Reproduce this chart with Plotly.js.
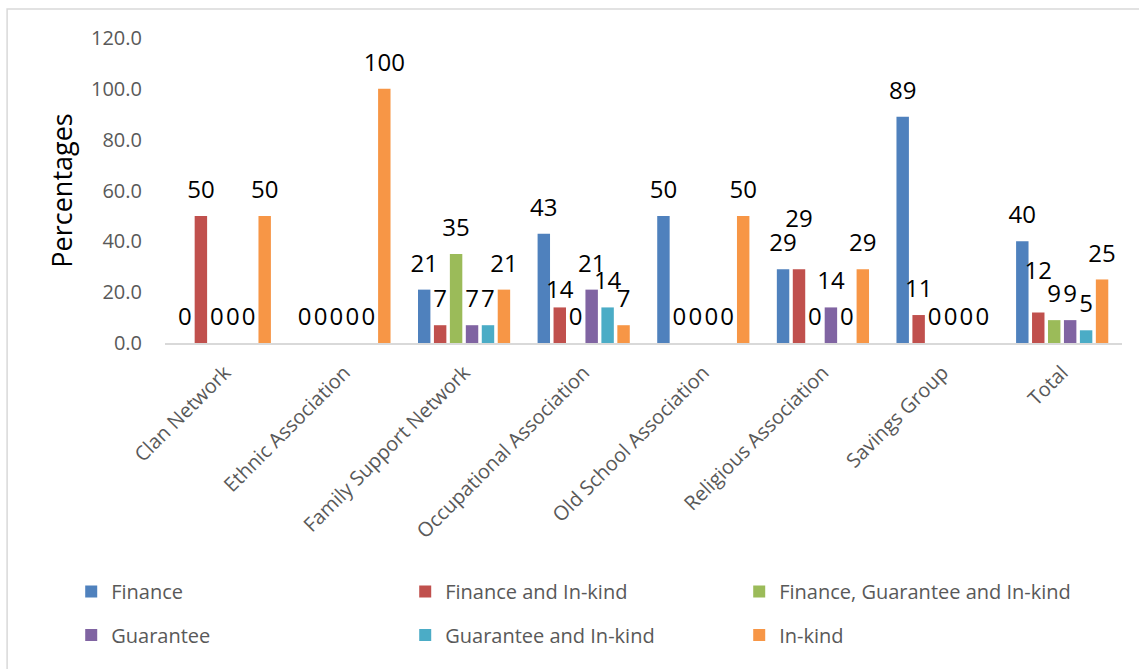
<!DOCTYPE html>
<html>
<head>
<meta charset="utf-8">
<script src="https://cdn.plot.ly/plotly-3.0.1.min.js"></script>
<style>html,body{margin:0;padding:0;background:#fff;}#chart{width:1139px;height:669px;}</style>
</head>
<body>
<div id="chart"></div>
<script>
const categories = ["Clan Network", "Ethnic Association", "Family Support Network", "Occupational Association", "Old School Association", "Religious Association", "Savings Group", "Total"];
const seriesNames = ["Finance", "Finance and In-kind", "Finance, Guarantee and In-kind", "Guarantee", "Guarantee and In-kind", "In-kind"];
const finance                = [0, 0, 21, 43, 50, 29, 89, 40];
const financeInKind          = [50, 0, 7, 14, 0, 29, 11, 12];
const financeGuaranteeInKind = [0, 0, 35, 0, 0, 0, 0, 9];
const guarantee              = [0, 0, 7, 21, 0, 14, 0, 9];
const guaranteeInKind        = [0, 0, 7, 14, 0, 0, 0, 5];
const inKind                 = [50, 100, 21, 7, 50, 29, 0, 25];
const tickVals = [0, 20, 40, 60, 80, 100, 120];

const allSeries = [finance, financeInKind, financeGuaranteeInKind, guarantee, guaranteeInKind, inKind];
const colors = ["#4F81BD", "#C0504D", "#9BBB59", "#8064A2", "#4BACC6", "#F79646"];
const FONT = "Open Sans, Noto Sans, sans-serif";
const LABEL_SIZE = 24;

// style: distance (px) from bar end to the centre of its data label
const DEFAULT_LIFT = 26.5;
const liftOverrides = {1: {3: 18, 5: 51, 7: 42}};
function markerSizeForLift(lift) {
  const r = lift - 0.607 * LABEL_SIZE;
  return Math.max(0, 2 * 0.8 * (r - 1));
}

const barTraces = allSeries.map((vals, i) => ({
  type: "bar",
  name: seriesNames[i],
  x: categories,
  y: vals,
  marker: {color: colors[i], line: {width: 0}},
  legend: i < 3 ? "legend" : "legend2",
  hoverinfo: "skip"
}));

const labelTraces = allSeries.map((vals, i) => ({
  type: "scatter",
  mode: "markers+text",
  x: categories,
  y: vals,
  text: vals.map(v => String(v)),
  textposition: "top center",
  textfont: {family: FONT, size: LABEL_SIZE, color: "#000000"},
  marker: {
    color: "rgba(0,0,0,0)",
    size: vals.map((v, j) => markerSizeForLift((liftOverrides[i] && liftOverrides[i][j]) || DEFAULT_LIFT)),
    line: {width: 0}
  },
  cliponaxis: false,
  showlegend: false,
  hoverinfo: "skip"
}));

const legendCommon = {
  orientation: "h",
  xanchor: "left",
  yanchor: "middle",
  font: {family: FONT, size: 20, color: "#595959"},
  entrywidth: 289,
  entrywidthmode: "pixels",
  bgcolor: "rgba(0,0,0,0)",
  traceorder: "normal"
};

const layout = {
  width: 1139,
  height: 669,
  margin: {l: 165, r: 17, t: 38, b: 326},
  paper_bgcolor: "#ffffff",
  plot_bgcolor: "#ffffff",
  barmode: "group",
  bargap: 0.2,
  bargroupgap: 0.22,
  scattermode: "group",
  scattergap: 0.2,
  showlegend: true,
  legend: Object.assign({}, legendCommon, {x: -0.098, y: -0.815}),
  legend2: Object.assign({}, legendCommon, {x: -0.098, y: -0.957}),
  xaxis: {
    type: "category",
    tickangle: -45,
    tickfont: {family: FONT, size: 20, color: "#595959"},
    ticklabelstandoff: 8,
    showline: true,
    linecolor: "#D9D9D9",
    linewidth: 2,
    ticks: "",
    showgrid: false,
    zeroline: false,
    fixedrange: true
  },
  yaxis: {
    range: [0, 120],
    tickvals: tickVals,
    tickformat: ".1f",
    tickfont: {family: FONT, size: 20, color: "#595959"},
    showline: false,
    showgrid: false,
    zeroline: false,
    ticks: "",
    ticklabelstandoff: 22,
    title: {text: "Percentages", font: {family: FONT, size: 27, color: "#000000"}, standoff: 10},
    fixedrange: true
  },
  shapes: [{
    type: "rect", xref: "paper", yref: "paper",
    x0: -0.165, x1: 1.05, y0: -1.2, y1: 1.095,
    line: {color: "#D9D9D9", width: 1.5},
    fillcolor: "rgba(0,0,0,0)", layer: "below"
  }]
};

Plotly.newPlot("chart", barTraces.concat(labelTraces), layout, {displayModeBar: false, staticPlot: true});
</script>
</body>
</html>
